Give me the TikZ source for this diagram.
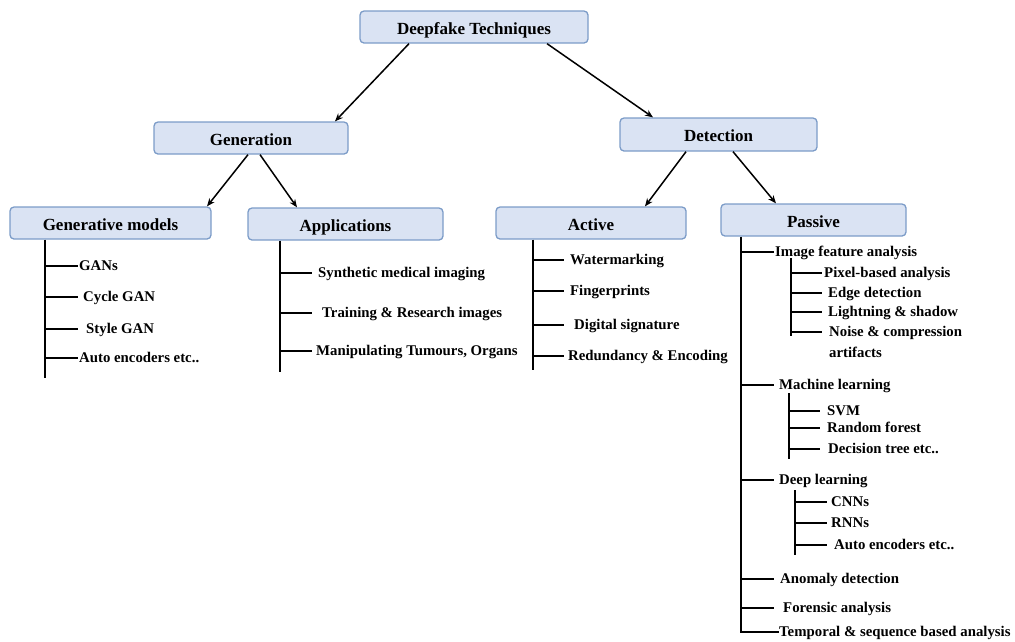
\documentclass[tikz,border=0pt]{standalone}
\usepackage{fontspec}
\setmainfont{Liberation Serif}
\usetikzlibrary{arrows.meta}
\definecolor{boxfill}{HTML}{DAE3F3}
\definecolor{boxline}{HTML}{7C9CC8}
\tikzset{
  box/.style={draw=boxline, fill=boxfill, rounded corners=4pt, line width=1.3pt,
    font=\bfseries\fontsize{17}{20}\selectfont, inner sep=0pt, align=center,
    text height=14pt, text depth=0pt},
  lab/.style={anchor=west, inner sep=0pt, font=\bfseries\fontsize{14.8}{18}\selectfont,
    text height=11pt, text depth=2pt},
  arr/.style={-{Stealth[length=8pt,width=6.5pt]}, line width=1.5pt},
  tr/.style={line width=1.7pt}
}
\begin{document}
\begin{tikzpicture}[x=1pt,y=-1pt]
\useasboundingbox (0,0) rectangle (1015,641);
% boxes
\node[box, minimum width=228pt, minimum height=32pt] (root) at (474,27) {Deepfake Techniques};
\node[box, minimum width=194pt, minimum height=32pt] (gen) at (251,138) {Generation};
\node[box, minimum width=201pt, minimum height=32pt] (gm) at (110.5,223) {Generative models};
\node[box, minimum width=195pt, minimum height=32pt] (app) at (345.5,224) {Applications};
\node[box, minimum width=197pt, minimum height=33pt] (det) at (718.5,134.5) {Detection};
\node[box, minimum width=190pt, minimum height=32pt] (act) at (591,223) {Active};
\node[box, minimum width=185pt, minimum height=32pt] (pas) at (813.5,220) {Passive};
% arrows
\draw[arr] ([xshift=-65pt]root.south) -- ([xshift=84pt]gen.north);
\draw[arr] ([xshift=73pt]root.south) -- ([xshift=-65.5pt]det.north);
\draw[arr] ([xshift=-3pt]gen.south) -- ([xshift=96.5pt]gm.north);
\draw[arr] ([xshift=9pt]gen.south) -- ([xshift=-48.5pt]app.north);
\draw[arr] ([xshift=-32.5pt]det.south) -- ([xshift=54pt]act.north);
\draw[arr] ([xshift=14.5pt]det.south) -- ([xshift=-37.5pt]pas.north);

% Generative models list
\coordinate (gmend) at (45,378);
\node[lab] (gans) at (79,266) {GANs};
\node[lab] (cyc) at (83,297) {Cycle GAN};
\node[lab] (sty) at (86,329) {Style GAN};
\node[lab] (ae1) at (79,358) {Auto encoders etc..};
\draw[tr] (gm.south -| gmend) -- (gmend);
\foreach \n in {gans,cyc,sty,ae1} \draw[tr] (gmend |- \n.west) -- ++(33,0);

% Applications list
\coordinate (apend) at (280,372);
\node[lab] (syn) at (318,273) {Synthetic medical imaging};
\node[lab] (trn) at (322,313) {Training \& Research images};
\node[lab] (man) at (316,351) {Manipulating Tumours, Organs};
\draw[tr] (app.south -| apend) -- (apend);
\foreach \n in {syn,trn,man} \draw[tr] (apend |- \n.west) -- ++(32,0);

% Active list
\coordinate (acend) at (533,370);
\node[lab] (wat) at (570,260) {Watermarking};
\node[lab] (fin) at (570,291) {Fingerprints};
\node[lab] (dig) at (574,325) {Digital signature};
\node[lab] (red) at (568,356) {Redundancy \& Encoding};
\draw[tr] (act.south -| acend) -- (acend);
\foreach \n in {wat,fin,dig,red} \draw[tr] (acend |- \n.west) -- ++(31,0);

% Passive list
\coordinate (patrunk) at (741,240);
\node[lab] (ifa) at (775,252) {Image feature analysis};
\node[lab] (mlr) at (779,385) {Machine learning};
\node[lab] (dlr) at (779,480) {Deep learning};
\node[lab] (ano) at (780,579) {Anomaly detection};
\node[lab] (for) at (783,608) {Forensic analysis};
\node[lab] (tem) at (779,632) {Temporal \& sequence based analysis};
\draw[tr] (pas.south -| patrunk) |- (tem.west);
\foreach \n in {ifa,mlr,dlr,ano,for} \draw[tr] (patrunk |- \n.west) -- ++(33,0);

% image feature sub list
\coordinate (ifatop) at (791,258);
\coordinate (ifaend) at (791,336);
\node[lab] (pix) at (824,273) {Pixel-based analysis};
\node[lab] (edg) at (828,293) {Edge detection};
\node[lab] (lig) at (828,312) {Lightning \& shadow};
\node[lab] (noi) at (829,332) {Noise \& compression};
\node[lab] (art) at (829,353) {artifacts};
\draw[tr] (ifatop) -- (ifaend);
\foreach \n in {pix,edg,lig,noi} \draw[tr] (ifatop |- \n.west) -- ++(31,0);

% ML sub list
\coordinate (mltop) at (789,393);
\coordinate (mlend) at (789,459);
\node[lab] (svm) at (827,411) {SVM};
\node[lab] (rf) at (827,428) {Random forest};
\node[lab] (dt) at (828,449) {Decision tree etc..};
\draw[tr] (mltop) -- (mlend);
\foreach \n in {svm,rf,dt} \draw[tr] (mltop |- \n.west) -- ++(31,0);

% DL sub list
\coordinate (dltop) at (795,490);
\coordinate (dlend) at (795,555);
\node[lab] (cnn) at (831,502) {CNNs};
\node[lab] (rnn) at (831,523) {RNNs};
\node[lab] (ae2) at (834,545) {Auto encoders etc..};
\draw[tr] (dltop) -- (dlend);
\foreach \n in {cnn,rnn,ae2} \draw[tr] (dltop |- \n.west) -- ++(32,0);
\end{tikzpicture}
\end{document}
